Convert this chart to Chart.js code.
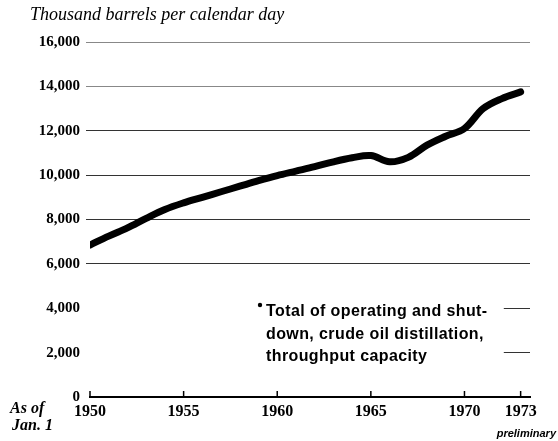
<!DOCTYPE html>
<html>
<head>
<meta charset="utf-8">
<script src="https://cdn.jsdelivr.net/npm/chart.js@4.4.1/dist/chart.umd.min.js"></script>
<style>
  html, body { margin: 0; padding: 0; background: #fff; }
  #wrap { width: 558px; height: 441px; position: relative; }
</style>
</head>
<body>
<div id="wrap"><canvas id="c" width="558" height="441"></canvas></div>
<script>
// ---- Data ----
const years = [1950, 1951, 1952, 1953, 1954, 1955, 1956, 1957, 1958, 1959, 1960, 1961,
               1962, 1963, 1964, 1965, 1966, 1967, 1968, 1969, 1970, 1971, 1972, 1973];
const capacity = [6850, 7250, 7620, 8050, 8450, 8750, 9000, 9250, 9500, 9750, 9980, 10180,
                  10380, 10600, 10780, 10880, 10600, 10800, 11350, 11750, 12100, 13000, 13450, 13750];
const xTickYears = [1950, 1955, 1960, 1965, 1970, 1973];
const yTickValues = [0, 2000, 4000, 6000, 8000, 10000, 12000, 14000, 16000];
const titleText = 'Thousand barrels per calendar day';
const noteLines = ['Total of operating and shut-', 'down, crude oil distillation,', 'throughput capacity'];
const asOfLines = ['As of', 'Jan. 1'];
const prelimText = 'preliminary';

const points = years.map((y, i) => ({ x: y, y: capacity[i] }));

const serif = '"Liberation Serif", "DejaVu Serif", serif';
const sans = '"Liberation Sans", Arial, sans-serif';

const decor = {
  id: 'decor',
  beforeDatasetsDraw(chart) {
    // white panel behind the footnote, hiding the lower grid lines
    const { ctx } = chart;
    const ys = chart.scales.y;
    const xs = chart.scales.x;
    ctx.save();
    ctx.fillStyle = '#fff';
    const top = ys.getPixelForValue(5000);
    const bot = ys.getPixelForValue(1000);
    ctx.fillRect(xs.left - 6, top, xs.getPixelForValue(1972.1) - (xs.left - 6), bot - top);
    ctx.restore();
  },
  afterDraw(chart) {
    const { ctx } = chart;
    const xs = chart.scales.x;
    const ys = chart.scales.y;
    ctx.save();
    // upward tick marks on the x axis
    ctx.strokeStyle = '#000';
    ctx.lineWidth = 1.5;
    const base = ys.getPixelForValue(0);
    xTickYears.forEach(v => {
      const px = xs.getPixelForValue(v);
      ctx.beginPath();
      ctx.moveTo(px, base);
      ctx.lineTo(px, base - 6);
      ctx.stroke();
    });
    ctx.fillStyle = '#000';
    // title
    ctx.font = 'italic 18px ' + serif;
    ctx.textBaseline = 'alphabetic';
    ctx.textAlign = 'left';
    ctx.fillText(titleText, 30, 20);
    // As of Jan. 1
    ctx.font = 'italic bold 16px ' + serif;
    ctx.fillText(asOfLines[0], 10, 413);
    ctx.fillText(asOfLines[1], 12, 430);
    // preliminary
    ctx.font = 'italic bold 11px ' + sans;
    ctx.textAlign = 'right';
    ctx.fillText(prelimText, 556, 437);
    // footnote
    ctx.textAlign = 'left';
    ctx.font = 'bold 16px ' + sans;
    if ('letterSpacing' in ctx) ctx.letterSpacing = '0.4px';
    const lx = 266;
    ctx.fillText(noteLines[0], lx, 316);
    ctx.fillText(noteLines[1], lx, 339);
    ctx.fillText(noteLines[2], lx, 361);
    ctx.beginPath();
    ctx.arc(lx - 6, 305, 2.2, 0, Math.PI * 2);
    ctx.fill();
    ctx.restore();
  }
};

new Chart(document.getElementById('c'), {
  type: 'line',
  data: {
    datasets: [{
      data: points,
      borderColor: '#000',
      borderWidth: 7,
      pointRadius: 0,
      tension: 0.35,
      fill: false,
      borderCapStyle: 'round',
      borderJoinStyle: 'round'
    }]
  },
  options: {
    responsive: false,
    animation: false,
    devicePixelRatio: 1,
    layout: { padding: { left: 0, right: 28, top: 42, bottom: 0 } },
    plugins: { legend: { display: false }, tooltip: { enabled: false }, title: { display: false } },
    scales: {
      x: {
        type: 'linear',
        min: 1950,
        max: 1973.5,
        afterBuildTicks: s => { s.ticks = xTickYears.map(v => ({ value: v })); },
        afterFit: s => { s.height = 44; },
        grid: { display: true, drawOnChartArea: false, drawTicks: false },
        border: { display: true, color: '#000', width: 2 },
        ticks: {
          padding: 5,
          color: '#000',
          font: { family: serif, size: 16, weight: 'bold' },
          callback: v => String(v),
          maxRotation: 0,
          autoSkip: false
        }
      },
      y: {
        min: 0,
        max: 16000,
        afterBuildTicks: s => { s.ticks = yTickValues.map(v => ({ value: v })); },
        afterFit: s => { s.width = 90; },
        grid: {
          color: ctx => (ctx.tick && ctx.tick.value >= 14000) ? '#888' : (ctx.tick && ctx.tick.value === 0 ? 'rgba(0,0,0,0)' : '#333'),
          lineWidth: 1,
          drawTicks: true,
          tickLength: 4
        },
        border: { display: false },
        ticks: {
          padding: 6,
          color: '#000',
          font: { family: serif, size: 15, weight: 'bold' },
          callback: v => v.toLocaleString('en-US')
        }
      }
    }
  },
  plugins: [decor]
});
</script>
</body>
</html>
